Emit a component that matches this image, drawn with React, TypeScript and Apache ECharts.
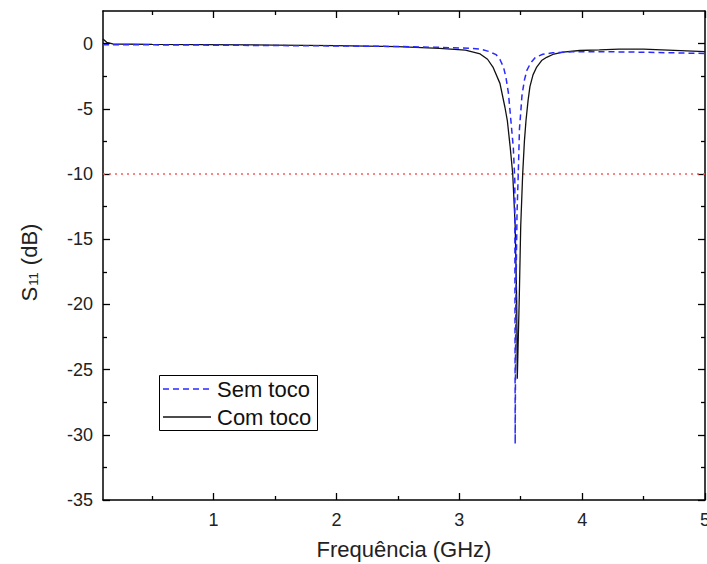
import React, { useEffect, useRef } from "react";
import * as echarts from "echarts";

const semTocoFreq = [0.1, 0.3, 0.6, 1.0, 1.5, 2.0, 2.5, 2.8, 3.0, 3.1, 3.17, 3.24, 3.3, 3.33, 3.36, 3.38, 3.4, 3.42, 3.44, 3.452, 3.455, 3.46, 3.47, 3.48, 3.49, 3.5, 3.51, 3.53, 3.55, 3.58, 3.62, 3.68, 3.76, 3.92, 4.14, 4.5, 4.8, 5.0];
const semTocoS11 = [-0.08, -0.09, -0.1, -0.12, -0.15, -0.18, -0.22, -0.28, -0.33, -0.37, -0.42, -0.6, -0.85, -1.2, -1.8, -2.6, -3.8, -5.9, -8.0, -10.5, -30.7, -20, -13, -10, -6.5, -5.3, -4.0, -2.8, -2.06, -1.5, -1.05, -0.82, -0.71, -0.62, -0.62, -0.66, -0.72, -0.76];

const comTocoFreq = [0.1, 0.13, 0.18, 0.5, 0.9, 1.5, 2.0, 2.5, 2.84, 3.05, 3.17, 3.23, 3.274, 3.331, 3.372, 3.391, 3.415, 3.435, 3.455, 3.467, 3.472, 3.488, 3.5, 3.516, 3.53, 3.543, 3.56, 3.575, 3.6, 3.63, 3.67, 3.711, 3.77, 3.844, 3.98, 4.14, 4.3, 4.5, 4.7, 4.9, 5.0];
const comTocoS11 = [0.35, 0.1, -0.03, -0.06, -0.08, -0.11, -0.15, -0.23, -0.36, -0.5, -0.79, -1.2, -1.8, -3.05, -4.9, -5.9, -8.0, -10, -14, -19.6, -25.7, -19.6, -14, -10, -7.5, -5.9, -4.35, -3.3, -2.4, -1.8, -1.3, -1.05, -0.8, -0.66, -0.53, -0.48, -0.42, -0.43, -0.5, -0.58, -0.62];

const thresholdFreq = [0.1, 5.0];
const thresholdS11 = [-10, -10];

const xMajor = [1, 2, 3, 4, 5];
const xMinor = [0.5, 1.5, 2.5, 3.5, 4.5];
const yMajor = [-35, -30, -25, -20, -15, -10, -5, 0];
const yMinor = [-32.5, -27.5, -22.5, -17.5, -12.5, -7.5, -2.5];

const legendNames = ["Sem toco", "Com toco"];

const FONT = "Liberation Sans, Arial, sans-serif";
const BLUE = "#2a2aff";
const BLACK = "#111";

export default function App() {
  const ref = useRef<HTMLDivElement>(null);
  useEffect(() => {
    if (!ref.current) return;
    const chart = echarts.init(ref.current, null, { renderer: "svg" });
    const zip = (a: number[], b: number[]) => a.map((v, i) => [v, b[i]]);
    const xBase = { type: "value", min: 0.1, max: 5, splitLine: { show: false } };
    const yBase = { type: "value", min: -35, max: 2.5, splitLine: { show: false } };
    const axisLine = { show: true, onZero: false, lineStyle: { color: "#000", width: 1.5 } };
    const noLine = { show: false, onZero: false };
    const noLabel = { show: false };
    const tick = (vals: number[], len: number) => ({
      show: true,
      inside: true,
      length: len,
      customValues: vals,
      lineStyle: { color: "#000", width: 1.3 },
    });
    chart.setOption({
      animation: false,
      grid: { left: 103, right: 2, top: 11, bottom: 64, containLabel: false, outerBoundsMode: "none" },
      graphic: [
        {
          type: "rect",
          left: 159,
          top: 375,
          shape: { width: 158, height: 55 },
          style: { fill: "#fff", stroke: "#000", lineWidth: 1 },
          z: 100,
        },
        {
          type: "line",
          shape: { x1: 163, y1: 389, x2: 211, y2: 389 },
          style: { stroke: BLUE, lineWidth: 1.5, lineDash: [6, 4] },
          z: 101,
        },
        {
          type: "line",
          shape: { x1: 163, y1: 417, x2: 211, y2: 417 },
          style: { stroke: BLACK, lineWidth: 1.3 },
          z: 101,
        },
        {
          type: "text",
          x: 217,
          y: 389,
          style: { text: legendNames[0], font: `22px ${FONT}`, fill: "#111", verticalAlign: "middle" },
          z: 101,
        },
        {
          type: "text",
          x: 217,
          y: 417,
          style: { text: legendNames[1], font: `22px ${FONT}`, fill: "#111", verticalAlign: "middle" },
          z: 101,
        },
      ],
      xAxis: [
        {
          ...xBase,
          position: "bottom",
          axisLine,
          axisTick: tick(xMajor, 7),
          axisLabel: { show: true, customValues: xMajor, margin: 11, fontFamily: FONT, fontSize: 18, color: "#222" },
          name: "Frequência (GHz)",
          nameLocation: "middle",
          nameGap: 38,
          nameTextStyle: { fontFamily: FONT, fontSize: 22, color: "#222" },
        },
        { ...xBase, position: "bottom", axisLine: noLine, axisTick: tick(xMinor, 4), axisLabel: noLabel },
        { ...xBase, position: "top", axisLine, axisTick: tick(xMajor, 7), axisLabel: noLabel },
        { ...xBase, position: "top", axisLine: noLine, axisTick: tick(xMinor, 4), axisLabel: noLabel },
      ],
      yAxis: [
        {
          ...yBase,
          position: "left",
          axisLine,
          axisTick: tick(yMajor, 7),
          axisLabel: { show: true, customValues: yMajor, margin: 10, fontFamily: FONT, fontSize: 18, color: "#222" },
          name: "{s|S}{sub|11}{s| (dB)}",
          nameLocation: "middle",
          nameRotate: 90,
          nameGap: 63,
          nameTextStyle: {
            fontFamily: FONT,
            padding: [0, 14, 0, 0],
            rich: {
              s: { fontFamily: FONT, fontSize: 22, lineHeight: 22, verticalAlign: "top", color: "#222" },
              sub: { fontFamily: FONT, fontSize: 13, lineHeight: 13, verticalAlign: "bottom", padding: [15, 1, 0, 1], color: "#222" },
            },
          },
        },
        { ...yBase, position: "left", axisLine: noLine, axisTick: tick(yMinor, 4), axisLabel: noLabel },
        { ...yBase, position: "right", axisLine, axisTick: tick(yMajor, 7), axisLabel: noLabel },
        { ...yBase, position: "right", axisLine: noLine, axisTick: tick(yMinor, 4), axisLabel: noLabel },
      ],
      series: [
        {
          name: "threshold",
          type: "line",
          data: zip(thresholdFreq, thresholdS11),
          symbol: "none",
          lineStyle: { color: "#ff5a5a", width: 1.5, type: [2, 4] },
          silent: true,
        },
        {
          name: legendNames[1],
          type: "line",
          data: zip(comTocoFreq, comTocoS11),
          symbol: "none",
          itemStyle: { color: BLACK },
          lineStyle: { color: BLACK, width: 1.3, type: "solid" },
        },
        {
          name: legendNames[0],
          type: "line",
          data: zip(semTocoFreq, semTocoS11),
          symbol: "none",
          itemStyle: { color: BLUE },
          lineStyle: { color: BLUE, width: 1.5, type: [6, 4] },
        },
      ],
    });
    return () => chart.dispose();
  }, []);
  return <div ref={ref} style={{ width: 707, height: 564, position: "absolute", left: 0, top: 0, background: "#fff" }} />;
}
